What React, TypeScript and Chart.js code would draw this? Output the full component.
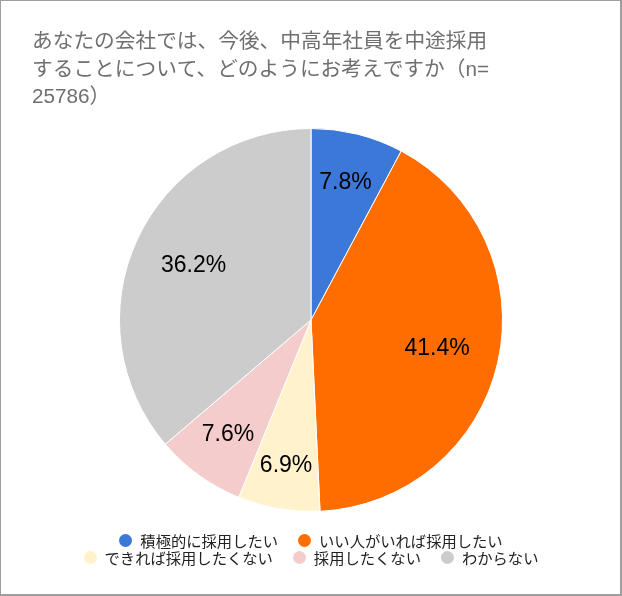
import React, { useEffect, useRef } from "react";
import { Chart, registerables } from "chart.js";

Chart.register(...registerables);

const titleLines = [
  "あなたの会社では、今後、中高年社員を中途採用",
  "することについて、どのようにお考えですか（n=",
  "25786）",
];
const categories = [
  "積極的に採用したい",
  "いい人がいれば採用したい",
  "できれば採用したくない",
  "採用したくない",
  "わからない",
];
const values = [7.8, 41.4, 6.9, 7.6, 36.2];
const colors = ["#3c78d8", "#ff6d01", "#fff2cc", "#f4cccc", "#cccccc"];
const legendRows = [[0, 1], [2, 3, 4]];

const FONT = "Arial, 'Liberation Sans', 'Noto Sans CJK JP', sans-serif";

const sliceLabels = {
  id: "sliceLabels",
  afterDatasetsDraw(chart: any) {
    const ctx = chart.ctx;
    const meta = chart.getDatasetMeta(0);
    const total = values.reduce((a, b) => a + b, 0);
    ctx.save();
    ctx.font = `23px ${FONT}`;
    ctx.fillStyle = "#000000";
    ctx.textAlign = "center";
    ctx.textBaseline = "middle";
    meta.data.forEach((arc: any, i: number) => {
      const p = arc.getProps(["x", "y", "startAngle", "endAngle", "outerRadius"], true);
      const mid = (p.startAngle + p.endAngle) / 2;
      const frac = values[i] / total;
      const r = p.outerRadius * (frac < 0.075 ? 0.77 : frac < 0.1 ? 0.74 : 0.675);
      ctx.fillText(
        values[i].toFixed(1) + "%",
        p.x + Math.cos(mid) * r,
        p.y + Math.sin(mid) * r
      );
    });
    ctx.restore();
  },
};

export default function App() {
  const ref = useRef<HTMLCanvasElement>(null);
  useEffect(() => {
    document.body.style.margin = "0";
    const chart = new Chart(ref.current!, {
      type: "pie",
      data: {
        labels: categories,
        datasets: [
          {
            data: values,
            backgroundColor: colors,
            borderColor: "#ffffff",
            borderWidth: 1,
          },
        ],
      },
      options: {
        animation: false,
        responsive: false,
        layout: { padding: { left: 32, right: 32, top: 0, bottom: 84 } },
        plugins: {
          legend: { display: false },
          tooltip: { enabled: false },
          title: {
            display: true,
            text: titleLines,
            align: "start",
            color: "#6f6f6f",
            font: { family: FONT, size: 20.7, weight: "normal", lineHeight: 1.32 },
            padding: { top: 29, bottom: 17 },
          },
        },
      },
      plugins: [sliceLabels],
    });
    return () => chart.destroy();
  }, []);

  return (
    <div
      style={{
        position: "relative",
        width: 622,
        height: 596,
        boxSizing: "border-box",
        borderLeft: "1px solid #9e9e9e",
        borderTop: "1px solid #9e9e9e",
        borderRight: "2px solid #9e9e9e",
        borderBottom: "2px solid #9e9e9e",
        overflow: "hidden",
        background: "#fff",
      }}
    >
      <canvas
        ref={ref}
        width={622}
        height={596}
        style={{ position: "absolute", left: -1, top: -1, width: 622, height: 596 }}
      />
      {legendRows.map((row, ri) => (
        <div
          key={ri}
          style={{
            position: "absolute",
            left: -1,
            width: 622,
            top: (ri === 0 ? 540 : 557) - 1 - 10,
            height: 20,
            display: "flex",
            justifyContent: "center",
            alignItems: "center",
            gap: 20,
            fontFamily: FONT,
            fontSize: 15.3,
            color: "#222222",
            whiteSpace: "nowrap",
          }}
        >
          {row.map((i) => (
            <div key={i} style={{ display: "flex", alignItems: "center" }}>
              <span
                style={{
                  display: "inline-block",
                  width: 13,
                  height: 13,
                  borderRadius: "50%",
                  background: colors[i],
                  marginRight: 8,
                }}
              />
              <span>{categories[i]}</span>
            </div>
          ))}
        </div>
      ))}
    </div>
  );
}
